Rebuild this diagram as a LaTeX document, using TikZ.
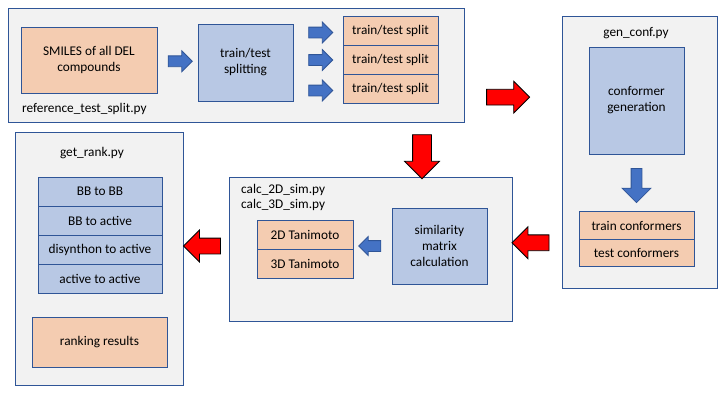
\documentclass[tikz,border=0pt]{standalone}
\usepackage{fontspec}
\setmainfont{Carlito}
\usetikzlibrary{positioning, shapes.arrows, calc}
\definecolor{panelgray}{HTML}{F2F2F2}
\definecolor{edgeblue}{HTML}{2F5597}
\definecolor{peach}{HTML}{F4CCB1}
\definecolor{paleblue}{HTML}{B8C8E4}
\definecolor{arrowblue}{HTML}{4472C4}

\begin{document}
\begin{tikzpicture}[x=1pt, y=-1pt,
    node distance=0pt,
    panel/.style={draw=edgeblue, fill=panelgray, line width=0.8pt, inner sep=0pt, outer sep=0pt},
    box/.style={draw=edgeblue, fill=#1, line width=0.8pt, inner sep=0pt, outer sep=0pt, align=center, font=\fontsize{13.3}{16}\selectfont},
    box/.default=peach,
    tag/.style={inner sep=0pt, align=left, font=\fontsize{13.3}{15}\selectfont},
    bluearrow/.style={single arrow, draw=edgeblue, fill=arrowblue, line width=0.8pt, inner sep=5pt, single arrow head extend=5pt, minimum height=24pt},
    redarrow/.style={single arrow, draw=black, fill=red, line width=0.8pt, inner sep=7.5pt, single arrow head extend=8pt, minimum height=40pt}
]
    \useasboundingbox (0,0) rectangle (720,405);

    \node[panel, minimum width=456pt, minimum height=114pt] (splitpanel) at (236,65) {};
    \node[box, minimum width=136pt, minimum height=66pt] (smiles) at (89,60) {SMILES of all DEL\\compounds};
    \node[box=paleblue, minimum width=95pt, minimum height=77pt] (splitting) at (245.5,62.5) {train/test\\splitting};
    \node[box, minimum width=95pt, minimum height=29pt] (split1) at (390.5,30.5) {train/test split};
    \node[box, minimum width=95pt, minimum height=29pt, below=of split1] (split2) {train/test split};
    \node[box, minimum width=95pt, minimum height=29pt, below=of split2] (split3) {train/test split};
    \node[tag, anchor=west] (splitfile) at (22,109) {reference\_test\_split.py};

    \node[panel, minimum width=155pt, minimum height=272pt] (confpanel) at (639.5,152) {};
    \node[tag] (conffile) at (636,33) {gen\_conf.py};
    \node[box=paleblue, minimum width=95pt, minimum height=107pt] (confgen) at (636.5,100.5) {conformer\\generation};
    \node[box, minimum width=115pt, minimum height=27.5pt] (trainconf) at (636.5,225.5) {train conformers};
    \node[box, minimum width=115pt, minimum height=27.5pt, below=of trainconf] (testconf) {test conformers};

    \node[panel, minimum width=283pt, minimum height=144pt] (simpanel) at (370.5,249) {};
    \node[tag, anchor=west] (simfile) at (241,197.5) {calc\_2D\_sim.py\\calc\_3D\_sim.py};
    \node[box, minimum width=96pt, minimum height=29pt] (tani2d) at (305,234.5) {2D Tanimoto};
    \node[box, minimum width=96pt, minimum height=29pt, below=of tani2d] (tani3d) {3D Tanimoto};
    \node[box=paleblue, minimum width=95pt, minimum height=76pt] (simcalc) at (439.5,246) {similarity\\matrix\\calculation};

    \node[panel, minimum width=168pt, minimum height=253pt] (rankpanel) at (99,258.5) {};
    \node[tag] (rankfile) at (92,153) {get\_rank.py};
    \node[box=paleblue, minimum width=124pt, minimum height=29pt] (bbbb) at (100,191.5) {BB to BB};
    \node[box=paleblue, minimum width=124pt, minimum height=29pt, below=of bbbb] (bbact) {BB to active};
    \node[box=paleblue, minimum width=124pt, minimum height=29pt, below=of bbact] (disyn) {disynthon to active};
    \node[box=paleblue, minimum width=124pt, minimum height=29pt, below=of disyn] (actact) {active to active};
    \node[box, minimum width=135pt, minimum height=50pt] (results) at (99.5,342) {ranking results};

    \node[bluearrow] (toSplitting) at ($(smiles.east)!0.5!(splitting.west)$) {};
    \foreach \i/\dy in {1/2, 2/0.5, 3/2} {
        \node[bluearrow] (toSplit\i) at ($(splitting.east |- split\i)!0.5!(split\i.west) + (0,\dy)$) {};
    }
    \node[bluearrow, rotate=-90, minimum height=34pt, single arrow head extend=9pt] (toConfs) at ($(confgen.south)!0.5!(trainconf.north)$) {};
    \node[bluearrow, rotate=180, minimum height=22pt, single arrow head extend=4pt] (toTani) at ($(tani2d.east |- simcalc)!0.5!(simcalc.west)$) {};

    \node[redarrow, minimum height=43pt] (toConf) at ($(splitpanel.east)!0.41!(confpanel.west) + (0,-3.5)$) {};
    \node[redarrow, rotate=-90, minimum height=44pt, inner sep=9pt] (toSim) at (422,152) {};
    \node[redarrow, rotate=180, minimum height=37pt] (fromConf) at ($(simpanel.east |- testconf.north)!0.45!(confpanel.west |- testconf.north) + (0,3.5)$) {};
    \node[redarrow, rotate=180, minimum height=37pt] (toRank) at ($(rankpanel.east |- simcalc)!0.5!(simpanel.west |- simcalc)$) {};
\end{tikzpicture}
\end{document}
